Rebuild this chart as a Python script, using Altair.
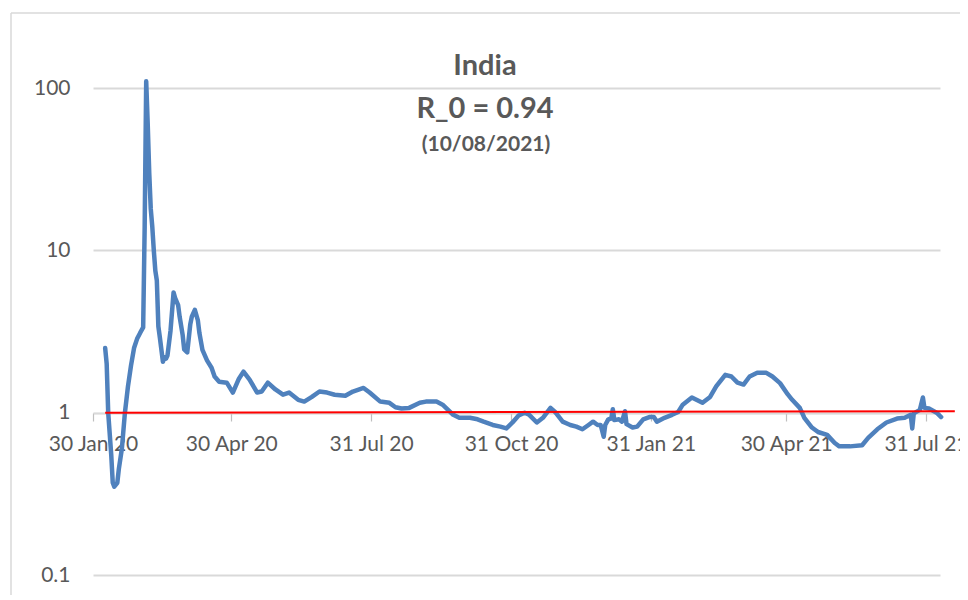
import altair as alt
import pandas as pd

# ---- data ----
dates = [
    "2020-02-07", "2020-02-08", "2020-02-09", "2020-02-11", "2020-02-12", "2020-02-13",
    "2020-02-15", "2020-02-16", "2020-02-18", "2020-02-20", "2020-02-22", "2020-02-24",
    "2020-02-26", "2020-02-28", "2020-03-01", "2020-03-03", "2020-03-04", "2020-03-05",
    "2020-03-06", "2020-03-07", "2020-03-08", "2020-03-09", "2020-03-10", "2020-03-11",
    "2020-03-12", "2020-03-13", "2020-03-14", "2020-03-16", "2020-03-17", "2020-03-18",
    "2020-03-19", "2020-03-21", "2020-03-23", "2020-03-24", "2020-03-26", "2020-03-27",
    "2020-03-29", "2020-03-30", "2020-04-01", "2020-04-03", "2020-04-04", "2020-04-06",
    "2020-04-08", "2020-04-09", "2020-04-11", "2020-04-14", "2020-04-17", "2020-04-19",
    "2020-04-22", "2020-04-27", "2020-05-01", "2020-05-05", "2020-05-08", "2020-05-12",
    "2020-05-17", "2020-05-20", "2020-05-24", "2020-05-29", "2020-06-03", "2020-06-07",
    "2020-06-13", "2020-06-17", "2020-06-22", "2020-06-27", "2020-07-02", "2020-07-07",
    "2020-07-14", "2020-07-19", "2020-07-26", "2020-07-30", "2020-08-06", "2020-08-12",
    "2020-08-16", "2020-08-20", "2020-08-25", "2020-09-01", "2020-09-05", "2020-09-12",
    "2020-09-16", "2020-09-23", "2020-09-27", "2020-10-04", "2020-10-09", "2020-10-13",
    "2020-10-19", "2020-10-24", "2020-10-28", "2020-11-01", "2020-11-05", "2020-11-09",
    "2020-11-12", "2020-11-17", "2020-11-21", "2020-11-26", "2020-11-29", "2020-12-04",
    "2020-12-09", "2020-12-13", "2020-12-17", "2020-12-21", "2020-12-24", "2020-12-27",
    "2020-12-29", "2020-12-31", "2021-01-01", "2021-01-03", "2021-01-05", "2021-01-06",
    "2021-01-07", "2021-01-10", "2021-01-12", "2021-01-14", "2021-01-15", "2021-01-19",
    "2021-01-22", "2021-01-26", "2021-01-30", "2021-02-02", "2021-02-04", "2021-02-09",
    "2021-02-14", "2021-02-18", "2021-02-21", "2021-02-27", "2021-03-02", "2021-03-06",
    "2021-03-11", "2021-03-15", "2021-03-21", "2021-03-25", "2021-03-29", "2021-04-02",
    "2021-04-06", "2021-04-11", "2021-04-17", "2021-04-21", "2021-04-26", "2021-05-01",
    "2021-05-04", "2021-05-09", "2021-05-12", "2021-05-17", "2021-05-21", "2021-05-27",
    "2021-06-01", "2021-06-04", "2021-06-11", "2021-06-19", "2021-06-23", "2021-06-29",
    "2021-07-05", "2021-07-12", "2021-07-17", "2021-07-21", "2021-07-22", "2021-07-23",
    "2021-07-27", "2021-07-29", "2021-07-30", "2021-08-02", "2021-08-07", "2021-08-10",
]
r0_values = [
    2.5, 2.0, 1.0, 0.55, 0.37, 0.35,
    0.37, 0.45, 0.6, 1.0, 1.45, 1.95,
    2.5, 2.85, 3.1, 3.35, 14, 110,
    60, 30, 18, 14, 10, 7.5,
    6.5, 3.4, 2.9, 2.06, 2.2, 2.15,
    2.25, 3.2, 5.5, 5.1, 4.6, 3.9,
    3.0, 2.45, 2.35, 3.5, 3.9, 4.3,
    3.7, 3.1, 2.44, 2.1, 1.89, 1.67,
    1.55, 1.53, 1.33, 1.62, 1.79, 1.6,
    1.33, 1.35, 1.53, 1.39, 1.29, 1.33,
    1.2, 1.17, 1.25, 1.35, 1.33, 1.29,
    1.27, 1.35, 1.42, 1.33, 1.17, 1.15,
    1.08, 1.06, 1.07, 1.15, 1.17, 1.17,
    1.12, 0.97, 0.93, 0.93, 0.91, 0.88,
    0.84, 0.82, 0.80, 0.87, 0.96, 1.0,
    0.97, 0.87, 0.93, 1.07, 1.01, 0.88,
    0.84, 0.82, 0.79, 0.84, 0.88, 0.84,
    0.84, 0.71, 0.84, 0.91, 0.92, 1.05,
    0.90, 0.91, 0.88, 1.02, 0.85, 0.81,
    0.82, 0.91, 0.94, 0.94, 0.88, 0.93,
    0.97, 1.01, 1.12, 1.24, 1.2, 1.15,
    1.25, 1.45, 1.71, 1.67, 1.53, 1.49,
    1.67, 1.76, 1.76, 1.67, 1.52, 1.3,
    1.2, 1.07, 0.93, 0.81, 0.76, 0.73,
    0.65, 0.62, 0.62, 0.63, 0.70, 0.79,
    0.87, 0.92, 0.93, 0.97, 0.80, 0.99,
    1.04, 1.24, 1.07, 1.06, 1.0, 0.94,
]

ref_dates = ["2020-02-07", "2021-08-19"]
ref_values = [1.0, 1.02]

title_lines = ["India", "R_0 = 0.94", "(10/08/2021)"]
y_ticks = [0.1, 1, 10, 100]
x_ticks = [
    (2020, 1, 30), (2020, 4, 30), (2020, 7, 31), (2020, 10, 31),
    (2021, 1, 31), (2021, 4, 30), (2021, 7, 31),
]

# ---- tables ----
df = pd.DataFrame({"date": dates, "r0": r0_values})
ref_df = pd.DataFrame({"date": ref_dates, "r0": ref_values})
title_df = pd.DataFrame({"line": title_lines})

GREY_TEXT = "#595959"
GRID = "#d9d9d9"

x_scale = alt.Scale(
    type="utc",
    domain=[alt.DateTime(year=2020, month=1, date=30, utc=True),
            alt.DateTime(year=2021, month=8, date=9, hours=6, utc=True)],
)
y_scale = alt.Scale(type="log", domain=[0.1, 100])

x_axis = alt.Axis(
    values=[alt.DateTime(year=y, month=m, date=d, utc=True) for (y, m, d) in x_ticks],
    format="%d %b %y",
    title=None,
    grid=False,
    offset=-162,
    domainColor=GRID,
    domainWidth=1.5,
    tickColor="#bfbfbf",
    tickSize=8,
    tickWidth=1.2,
    labelPadding=12,
    labelFont="Lato",
    labelFontSize=21,
    labelColor=GREY_TEXT,
    labelOverlap=False,
    labelFlush=False,
)
y_axis = alt.Axis(
    values=y_ticks,
    format="~g",
    title=None,
    grid=True,
    gridColor=GRID,
    gridWidth=1.8,
    domain=False,
    ticks=False,
    tickSize=0,
    labelPadding=23,
    labelFont="Lato",
    labelFontSize=21,
    labelColor=GREY_TEXT,
)

# chart-area frame (left and top edges are the only parts inside the picture)
frame_left = alt.Chart(title_df.head(1)).mark_rule(color=GRID, strokeWidth=1.5).encode(
    x=alt.value(-82), y=alt.value(-75), y2=alt.value(700)
)
frame_top = alt.Chart(title_df.head(1)).mark_rule(color=GRID, strokeWidth=1.5).encode(
    x=alt.value(-82), x2=alt.value(1000), y=alt.value(-75)
)

line = alt.Chart(df).mark_line(
    color="#4f81bd", strokeWidth=4.5, strokeJoin="round", strokeCap="round"
).encode(
    x=alt.X("date:T", scale=x_scale, axis=x_axis),
    y=alt.Y("r0:Q", scale=y_scale, axis=y_axis),
)

ref_line = alt.Chart(ref_df).mark_line(color="#ff0000", strokeWidth=2).encode(
    x=alt.X("date:T", scale=x_scale),
    y=alt.Y("r0:Q", scale=y_scale),
)

t1 = alt.Chart(title_df.iloc[[0]]).mark_text(
    font="Lato", fontSize=29, fontWeight="bold", color=GREY_TEXT,
    align="center", baseline="alphabetic"
).encode(text="line:N", x=alt.value(392), y=alt.value(-13))

t2 = alt.Chart(title_df.iloc[[1]]).mark_text(
    font="Lato", fontSize=29, fontWeight="bold", color=GREY_TEXT,
    align="center", baseline="alphabetic"
).encode(text="line:N", x=alt.value(392), y=alt.value(30))

t3 = alt.Chart(title_df.iloc[[2]]).mark_text(
    font="Lato", fontSize=21, fontWeight="bold", color=GREY_TEXT,
    align="center", baseline="alphabetic"
).encode(text="line:N", x=alt.value(393), y=alt.value(63))

chart = alt.layer(frame_left, frame_top, line, ref_line, t1, t2, t3).properties(
    width=847,
    height=487,
    background="white",
    autosize=alt.AutoSizeParams(type="none"),
    padding={"left": 85, "top": 80, "right": 20, "bottom": 20},
).configure_view(strokeWidth=0, strokeOpacity=0)

chart.save("out.html", embed_options={"renderer": "svg", "actions": False})
